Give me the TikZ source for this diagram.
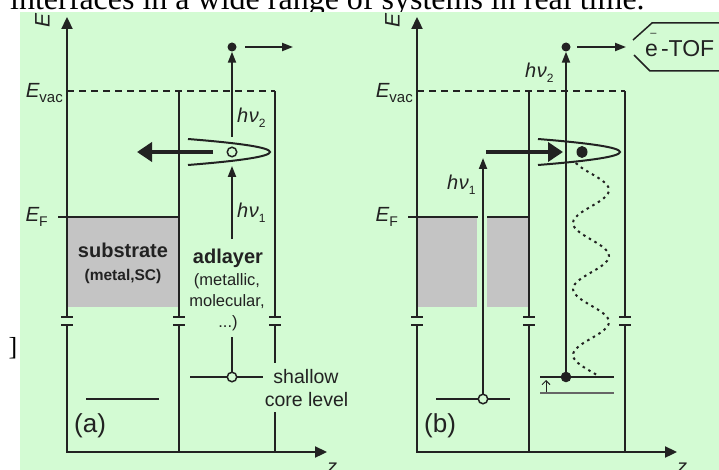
\documentclass[tikz,border=0pt]{standalone}
\usepackage{fontspec}
\setmainfont{Liberation Sans}
\newfontfamily\seriffont{Liberation Serif}
\usetikzlibrary{arrows.meta}
\definecolor{bg}{RGB}{211,251,211}
\definecolor{lc}{RGB}{34,34,34}
\definecolor{subgray}{RGB}{196,196,196}
\newcommand\hvlabel[1]{{\itshape h\kern0.5pt ν}\raisebox{-5pt}{\fontsize{12}{12}\selectfont #1}}
\begin{document}
\begin{tikzpicture}[x=1pt,y=-1pt,
  ln/.style={draw=lc,line width=2pt},
  axarrow/.style={draw=lc,line width=2.3pt,-{Triangle[length=12pt,width=11pt]}},
  tarrow/.style={draw=lc,line width=2pt,-{Triangle[length=11pt,width=8pt]}},
  fatarrow/.style={draw=lc,line width=4pt,-{Triangle[length=15pt,width=19pt]}},
  barmark/.style={draw=lc,line width=2.5pt},
  evac/.style={draw=lc,line width=1.5pt,dash pattern=on 7pt off 5pt},
  lbl/.style={inner sep=0pt,text=lc},
  opendot/.style={circle,draw=lc,fill=bg,line width=1.5pt,minimum size=9.5pt,inner sep=0pt},
  fulldot/.style={circle,fill=lc,inner sep=0pt},
  big/.style={font=\fontsize{20}{20}\selectfont},
]
\useasboundingbox (0,0) rectangle (719,470);
\fill[white] (0,0) rectangle (719,470);
\node[anchor=base west,inner sep=0pt,font=\seriffont\fontsize{32}{32}\selectfont] (cap) at (10,10) {interfaces in a wide range of systems in real time.};
\node[anchor=base east,inner sep=0pt,font=\seriffont\fontsize{26}{26}\selectfont] (brk) at (17.5,355) {]};
\fill[bg] (20,12) rectangle (719,470);

% substrate fills
\fill[subgray] (67,217) rectangle (179,307);
\fill[subgray] (417,217) rectangle (477,307);
\fill[subgray] (487,217) rectangle (530,307);

% common frame of both panels
\foreach \o in {0,350}{
  \draw[axarrow] ({67+\o},325) -- ({67+\o},452) -- ({327+\o},452);
  \draw[axarrow] ({67+\o},317) -- ({67+\o},17);
  \draw[ln] ({179+\o},91) -- ({179+\o},317);
  \draw[ln] ({179+\o},325) -- ({179+\o},452);
  \draw[ln] ({275+\o},91) -- ({275+\o},317);
  \foreach \xx in {67,179,275}{
    \draw[barmark] ({\xx+\o-6},317) -- ({\xx+\o+6},317);
    \draw[barmark] ({\xx+\o-6},325) -- ({\xx+\o+6},325);
  }
  \draw[evac] ({67+\o},91) -- ({275+\o},91);
  \draw[ln] ({58+\o},217) -- ({67+\o},217);
  \node[lbl,rotate=90,font=\itshape\fontsize{21}{21}\selectfont] (E\o) at ({42.5+\o},21) {E};
  \node[lbl,anchor=north,font=\itshape\fontsize{20}{20}\selectfont] (z\o) at ({332+\o},463) {z};
  \node[lbl,anchor=base east] (Ev\o) at ({63+\o},98) {{\itshape\fontsize{20.5}{20}\selectfont E}\raisebox{-5pt}{\fontsize{15}{15}\selectfont vac}};
  \node[lbl,anchor=base east] (EF\o) at ({48+\o},222) {{\itshape\fontsize{20.5}{20}\selectfont E}\raisebox{-5pt}{\fontsize{14}{14}\selectfont F}};
}

% ---------- panel (a) ----------
\draw[ln] (67,217) -- (179,217);
\draw[ln] (275,325) -- (275,363);
\draw[ln] (275,412) -- (275,452);
\draw[ln] (86,399) -- (159,399);
\node[lbl,anchor=base,font=\bfseries\fontsize{20}{20}\selectfont] (subs) at (123,257) {substrate};
\node[lbl,anchor=base,font=\bfseries\fontsize{15.5}{15.5}\selectfont] (subs2) at (123,280) {(metal,SC)};
\node[lbl,anchor=base,font=\bfseries\fontsize{20}{20}\selectfont] (adl) at (228,263) {adlayer};
\node[lbl,anchor=base,font=\fontsize{16.5}{16.5}\selectfont] (adl2) at (227,285) {(metallic,};
\node[lbl,anchor=base,font=\fontsize{16.5}{16.5}\selectfont] (adl3) at (227,306) {molecular,};
\node[lbl,anchor=base,font=\fontsize{16.5}{16.5}\selectfont] (adl4) at (228,327) {...)};
\node[lbl,anchor=base,font=\fontsize{19.5}{19.5}\selectfont] (sh1) at (306,383) {shallow};
\node[lbl,anchor=base,font=\fontsize{19.5}{19.5}\selectfont] (sh2) at (306.5,406) {core level};
\node[lbl,anchor=base west,font=\fontsize{26}{26}\selectfont] (la) at (74,432) {(a)};

\draw[ln] (190,377) -- (263,377);
\node[opendot] (ca) at (232,377) {};
\draw[ln] (ca.north) -- (232,337);
\coordinate (a1s) at (232,239);
\coordinate (a1e) at (232,166);
\draw[tarrow] (a1s) -- (a1e);
\node[lbl,anchor=base west,big] (hv1a) at (237,218) {\hvlabel{1}};

\draw[ln] (188,139) .. controls (297.3,147.7) and (297.3,156.3) .. (188,165);
\node[opendot] (ia) at (232,152) {};
\coordinate (fa) at (213,152);
\coordinate (fae) at (137,152);
\draw[fatarrow] (fa) -- (fae);
\node[fulldot,minimum size=9pt] (da) at (232,47) {};
\draw[tarrow] (232,137) -- (da.south);
\node[lbl,anchor=base west,big] (hv2a) at (237,123) {\hvlabel{2}};
\coordinate (ra) at (293,47);
\draw[tarrow] (245,47) -- (ra);

% ---------- panel (b) ----------
\draw[ln] (417,217) -- (478,217);
\draw[ln] (487,217) -- (530,217);
\draw[ln] (625,325) -- (625,452);
\node[lbl,anchor=base west,font=\fontsize{26}{26}\selectfont] (lb) at (424,432) {(b)};

\draw[ln] (436,399) -- (510,399);
\node[opendot] (cb) at (483,399) {};
\coordinate (b1e) at (483,158);
\draw[tarrow] (cb.north) -- (b1e);
\node[lbl,anchor=base west,big] (hv1b) at (447,190) {\hvlabel{1}};

\draw[ln] (538,139) .. controls (647.3,147.7) and (647.3,156.3) .. (538,165);
\coordinate (fb) at (486,152);
\coordinate (fbe) at (563,152);
\draw[fatarrow] (fb) -- (fbe);
\draw[lc,line width=2pt,dash pattern=on 2.5pt off 4pt] plot[domain=163:375,samples=90,smooth] ({591+18*cos(((\x-190)/66)*360)},\x);
\fill[lc] (582,152) ellipse (5.5 and 6);

\draw[draw=gray!80!black,line width=2pt] (540,393) -- (614,393);
\draw[ln] (540,377) -- (614,377);
\draw[draw=lc,line width=1pt,-{Straight Barb[length=4pt,width=8pt]}] (546,392) -- (546,380);
\node[fulldot,minimum size=10.6pt] (db) at (566,377) {};
\node[fulldot,minimum size=9pt] (tb) at (566,47) {};
\draw[tarrow] (db.north) -- (tb.south);
\node[lbl,anchor=base west,big] (hv2b) at (525,78) {\hvlabel{2}};
\coordinate (rb) at (626,47);
\draw[tarrow] (577,47) -- (rb);

% e- TOF
\draw[draw=lc,line width=1.5pt] (724,23) -- (652,23) -- (633,40);
\draw[draw=lc,line width=1.5pt] (634,55) -- (650,71) -- (724,71);
\node[lbl,anchor=base west,font=\fontsize{23}{23}\selectfont] (tof) at (645,57) {e\llap{\raisebox{20pt}{\fontsize{11}{11}\selectfont –}\kern1.5pt}\kern3pt-TOF};
\end{tikzpicture}
\end{document}
